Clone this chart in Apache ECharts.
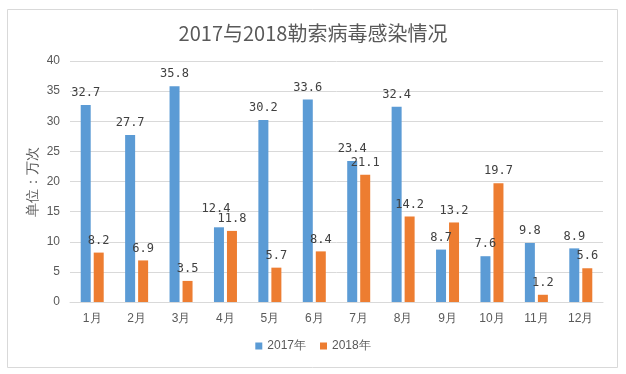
<!DOCTYPE html>
<html><head><meta charset="utf-8">
<script src="https://cdn.jsdelivr.net/npm/echarts@6/dist/echarts.min.js"></script>
<style>html,body{margin:0;padding:0;background:#fff}#c{width:626px;height:374px}</style>
</head><body><div id="c"></div>
<script>
const categories = ['1月','2月','3月','4月','5月','6月','7月','8月','9月','10月','11月','12月'];
const values2017 = [32.7, 27.7, 35.8, 12.4, 30.2, 33.6, 23.4, 32.4, 8.7, 7.6, 9.8, 8.9];
const values2018 = [8.2, 6.9, 3.5, 11.8, 5.7, 8.4, 21.1, 14.2, 13.2, 19.7, 1.2, 5.6];
const seriesNames = ['2017年','2018年'];

const chart = echarts.init(document.getElementById('c'), null, {renderer:'canvas'});
const labelStyle = {show:true, position:'top', color:'#404040', fontSize:12, fontFamily:'"DejaVu Sans Mono", monospace', distance:6};
const data2017 = values2017.map((v,i)=> i===3 ? {value:v, label:{offset:[-3,-6]}} : v);
chart.setOption({
  animation:false,
  backgroundColor:'#fff',
  title:{text:'2017与2018勒索病毒感染情况', left:'center', top:18,
    textStyle:{fontSize:20, fontWeight:'normal', color:'#595959', fontFamily:'"Noto Sans CJK SC"'}},
  graphic:[{type:'rect', shape:{x:7.5,y:9.5,width:610,height:358}, style:{fill:'none', stroke:'#d9d9d9', lineWidth:1}, silent:true, z:-1}],
  legend:{bottom:17, left:'center', itemWidth:7, itemHeight:7, itemGap:14, icon:'rect',
    textStyle:{color:'#595959', fontSize:12}, data:seriesNames},
  grid:{left:70, right:23, top:61, bottom:72},
  xAxis:{type:'category', data:categories,
    axisLine:{lineStyle:{color:'#d9d9d9'}}, axisTick:{show:false},
    axisLabel:{color:'#595959', fontSize:12, margin:11}},
  yAxis:{type:'value', min:0, max:40, interval:5,
    name:'单位：万次', nameLocation:'middle', nameGap:30, nameRotate:90, nameMoveOverlap:false,
    nameTextStyle:{color:'#595959', fontSize:14},
    axisLine:{show:false}, axisTick:{show:false},
    axisLabel:{color:'#595959', fontSize:12, margin:10},
    splitLine:{lineStyle:{color:'#d9d9d9'}}},
  series:[
    {name:seriesNames[0], type:'bar', data:data2017, barWidth:10, barGap:'30%', itemStyle:{color:'#5B9BD5'}, label:labelStyle},
    {name:seriesNames[1], type:'bar', data:values2018, barWidth:10, itemStyle:{color:'#ED7D31'}, label:labelStyle}
  ]
});
</script></body></html>
